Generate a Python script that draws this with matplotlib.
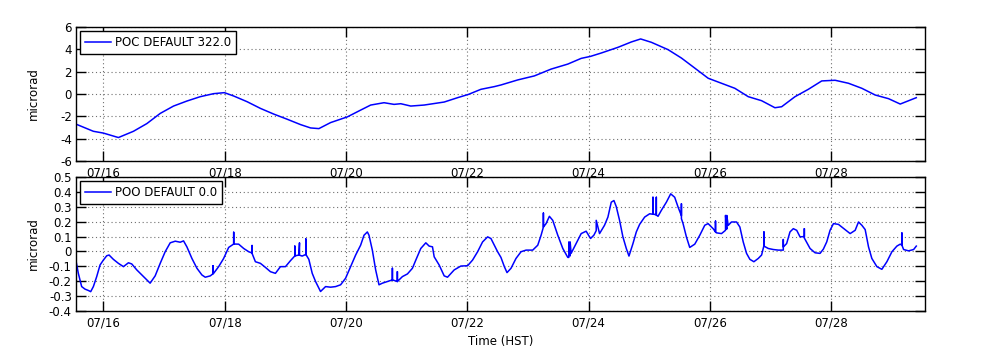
import datetime as dt
import matplotlib
matplotlib.use("Agg")
import matplotlib.pyplot as plt
import matplotlib.dates as mdates

# ---------------- data ----------------
# time in days since 07/16 00:00 (HST)
poc_days = [-0.451, -0.165, 0.0, 0.248, 0.496, 0.717, 0.937, 1.157, 1.378, 1.598,
            1.818, 1.995, 2.149, 2.370, 2.590, 2.810, 3.031, 3.251, 3.417, 3.554,
            3.747, 4.023, 4.243, 4.408, 4.628, 4.793, 4.904, 5.069, 5.289, 5.620,
            5.841, 6.023, 6.226, 6.446, 6.557, 6.833, 7.107, 7.383, 7.659, 7.879,
            8.033, 8.210, 8.486, 8.706, 8.860, 9.036, 9.312, 9.532, 9.752, 9.973,
            10.193, 10.413, 10.634, 10.854, 11.074, 11.185, 11.405, 11.625, 11.846,
            12.066, 12.287, 12.507, 12.727, 12.948, 13.140, 13.405]
poc_vals = [-2.70, -3.34, -3.50, -3.90, -3.34, -2.65, -1.74, -1.08, -0.63, -0.24,
            0.03, 0.12, -0.18, -0.69, -1.29, -1.80, -2.26, -2.74, -3.04, -3.10,
            -2.56, -2.05, -1.44, -0.99, -0.78, -0.93, -0.87, -1.08, -0.99, -0.72,
            -0.33, -0.03, 0.42, 0.66, 0.81, 1.26, 1.62, 2.23, 2.68, 3.19,
            3.37, 3.67, 4.18, 4.66, 4.93, 4.63, 3.97, 3.22, 2.32, 1.41,
            0.96, 0.51, -0.24, -0.60, -1.23, -1.14, -0.24, 0.42, 1.17,
            1.23, 0.96, 0.51, -0.09, -0.42, -0.90, -0.33]

poo_days = [-0.452, -0.413, -0.358, -0.303, -0.248, -0.209, -0.165, -0.110, -0.055, 0.0,
            0.055, 0.094, 0.165, 0.248, 0.331, 0.413, 0.468, 0.551, 0.661, 0.771,
            0.854, 0.937, 1.019, 1.102, 1.185, 1.267, 1.322, 1.377, 1.460, 1.543,
            1.625, 1.680, 1.763, 1.807, 1.807, 1.807, 1.818, 1.901, 1.983, 2.066,
            2.149, 2.149, 2.149, 2.231, 2.314, 2.397, 2.452, 2.452, 2.452, 2.507,
            2.590, 2.672, 2.755, 2.837, 2.920, 3.003, 3.085, 3.157, 3.157, 3.157,
            3.223, 3.234, 3.234, 3.278, 3.339, 3.339, 3.339, 3.388, 3.444, 3.499,
            3.581, 3.664, 3.747, 3.829, 3.912, 3.994, 4.077, 4.160, 4.242, 4.298,
            4.353, 4.380, 4.435, 4.490, 4.545, 4.601, 4.683, 4.766, 4.766, 4.766,
            4.848, 4.848, 4.848, 4.931, 5.014, 5.096, 5.152, 5.234, 5.317, 5.372,
            5.427, 5.455, 5.537, 5.620, 5.675, 5.785, 5.895, 6.006, 6.088, 6.171,
            6.253, 6.336, 6.391, 6.446, 6.501, 6.556, 6.612, 6.656, 6.722, 6.804,
            6.887, 6.970, 7.080, 7.163, 7.218, 7.256, 7.256, 7.256, 7.300, 7.355,
            7.410, 7.493, 7.576, 7.658, 7.675, 7.675, 7.697, 7.697, 7.713, 7.796,
            7.879, 7.961, 8.033, 8.088, 8.127, 8.127, 8.182, 8.264, 8.320, 8.375,
            8.419, 8.457, 8.512, 8.567, 8.623, 8.667, 8.733, 8.788, 8.843, 8.926,
            9.008, 9.063, 9.063, 9.063, 9.091, 9.118, 9.118, 9.118, 9.146, 9.201,
            9.284, 9.355, 9.421, 9.477, 9.532, 9.532, 9.532, 9.559, 9.614, 9.669,
            9.752, 9.835, 9.917, 9.972, 10.055, 10.094, 10.094, 10.094, 10.110, 10.193,
            10.259, 10.259, 10.280, 10.280, 10.303, 10.358, 10.441, 10.496, 10.551, 10.606,
            10.661, 10.727, 10.799, 10.854, 10.893, 10.893, 10.893, 10.964, 11.047, 11.129,
            11.212, 11.212, 11.212, 11.267, 11.322, 11.377, 11.433, 11.488, 11.559, 11.559,
            11.559, 11.653, 11.736, 11.818, 11.873, 11.928, 11.983, 12.039, 12.121, 12.231,
            12.314, 12.397, 12.452, 12.507, 12.562, 12.617, 12.672, 12.755, 12.837, 12.920,
            13.003, 13.085, 13.140, 13.168, 13.168, 13.168, 13.196, 13.278, 13.361, 13.405]
poo_vals = [-0.062, -0.147, -0.236, -0.253, -0.262, -0.270, -0.236, -0.169, -0.091, -0.058,
            -0.029, -0.024, -0.053, -0.080, -0.102, -0.076, -0.084, -0.124, -0.169, -0.213,
            -0.164, -0.080, -0.002, 0.058, 0.069, 0.062, 0.071, 0.031, -0.047, -0.113,
            -0.158, -0.173, -0.164, -0.150, -0.096, -0.150, -0.147, -0.102, -0.047, 0.027,
            0.050, 0.129, 0.050, 0.049, 0.020, -0.002, -0.010, 0.040, -0.013, -0.069,
            -0.080, -0.107, -0.136, -0.147, -0.102, -0.102, -0.062, -0.030, 0.036, -0.030,
            -0.024, 0.058, -0.025, -0.031, -0.020, 0.084, -0.020, -0.053, -0.147, -0.202,
            -0.269, -0.236, -0.240, -0.236, -0.224, -0.180, -0.102, -0.024, 0.042, 0.109,
            0.131, 0.109, 0.009, -0.124, -0.224, -0.213, -0.202, -0.191, -0.113, -0.191,
            -0.202, -0.136, -0.202, -0.169, -0.151, -0.113, -0.058, 0.020, 0.058, 0.036,
            0.031, -0.036, -0.091, -0.164, -0.173, -0.124, -0.098, -0.096, -0.058, -0.002,
            0.064, 0.098, 0.087, 0.042, -0.002, -0.040, -0.102, -0.142, -0.113, -0.047,
            -0.002, 0.009, 0.009, 0.042, 0.109, 0.164, 0.258, 0.164, 0.187, 0.236,
            0.209, 0.109, 0.020, -0.040, -0.040, 0.064, -0.030, 0.064, -0.013, 0.053,
            0.120, 0.136, 0.087, 0.109, 0.140, 0.209, 0.120, 0.176, 0.231, 0.331,
            0.342, 0.302, 0.209, 0.098, 0.020, -0.031, 0.053, 0.131, 0.182, 0.231,
            0.253, 0.250, 0.364, 0.250, 0.249, 0.245, 0.364, 0.245, 0.236, 0.276,
            0.331, 0.387, 0.364, 0.298, 0.240, 0.320, 0.220, 0.187, 0.098, 0.027,
            0.049, 0.109, 0.176, 0.187, 0.153, 0.131, 0.204, 0.131, 0.125, 0.120,
            0.142, 0.242, 0.150, 0.242, 0.175, 0.198, 0.198, 0.164, 0.064, -0.013,
            -0.053, -0.069, -0.047, -0.024, 0.040, 0.131, 0.036, 0.020, 0.013, 0.009,
            0.009, 0.080, 0.030, 0.053, 0.131, 0.153, 0.142, 0.098, 0.100, 0.153,
            0.090, 0.020, -0.009, -0.013, 0.016, 0.064, 0.142, 0.187, 0.182, 0.147,
            0.120, 0.142, 0.198, 0.176, 0.147, 0.031, -0.047, -0.102, -0.120, -0.069,
            -0.002, 0.036, 0.049, 0.042, 0.124, 0.042, 0.013, 0.004, 0.013, 0.036]

poc_label = "POC DEFAULT 322.0"
poo_label = "POO DEFAULT 0.0"
poc_yticks = [-6, -4, -2, 0, 2, 4, 6]
poc_yticklabels = ["-6", "-4", "-2", "0", "2", "4", "6"]
poo_yticks = [-0.4, -0.3, -0.2, -0.1, 0.0, 0.1, 0.2, 0.3, 0.4, 0.5]
poo_yticklabels = ["-0.4", "-0.3", "-0.2", "-0.1", "0", "0.1", "0.2", "0.3", "0.4", "0.5"]
xtick_days = [0, 2, 4, 6, 8, 10, 12]
x_start_day = -0.4514
x_end_day = 13.5486
ylabel = "microrad"
xlabel = "Time (HST)"

# ---------------- plot ----------------
plt.rcParams['font.family'] = ['DejaVu Sans']
plt.rcParams['axes.unicode_minus'] = False

base = dt.datetime(2014, 7, 16)


def to_dates(days):
    return [base + dt.timedelta(days=d) for d in days]


fig = plt.figure(figsize=(10, 3.6), dpi=100)
ax1 = fig.add_axes([0.076, 0.5528, 0.849, 0.3722])
ax2 = fig.add_axes([0.076, 0.1361, 0.849, 0.3722])

series = [
    (ax1, poc_days, poc_vals, poc_label, (-6, 6), poc_yticks, poc_yticklabels),
    (ax2, poo_days, poo_vals, poo_label, (-0.4, 0.5), poo_yticks, poo_yticklabels),
]

for ax, days, vals, lab, ylim, yt, ytl in series:
    ax.plot(to_dates(days), vals, color=(0, 0, 1), lw=1.1, label=lab)
    ax.set_xlim(base + dt.timedelta(days=x_start_day), base + dt.timedelta(days=x_end_day))
    ax.set_ylim(*ylim)
    ax.set_yticks(yt)
    ax.set_yticklabels(ytl)
    ax.set_xticks(to_dates(xtick_days))
    ax.xaxis.set_major_formatter(mdates.DateFormatter('%m/%d'))
    ax.grid(True, linestyle=(0, (1, 2.5)), color='#707070', linewidth=0.8)
    ax.tick_params(direction='in', length=7, width=1, top=True, right=True,
                   labelsize=8.5, colors='black')
    ax.tick_params(axis='x', pad=4)
    ax.tick_params(axis='y', pad=3)
    for sp in ax.spines.values():
        sp.set_linewidth(1.0)
    ax.set_ylabel(ylabel, fontsize=8.5)
    ax.yaxis.set_label_coords(-0.043, 0.5)
    leg = ax.legend(loc='upper left', fontsize=8.5, frameon=True, fancybox=False,
                    handlelength=2.2, borderpad=0.42, borderaxespad=0.35,
                    handletextpad=0.35)
    leg.get_frame().set_edgecolor('black')
    leg.get_frame().set_linewidth(1.0)
    leg.get_frame().set_alpha(1.0)

ax2.set_xlabel(xlabel, fontsize=8.5, labelpad=4)

fig.savefig("out.png", dpi=100)
